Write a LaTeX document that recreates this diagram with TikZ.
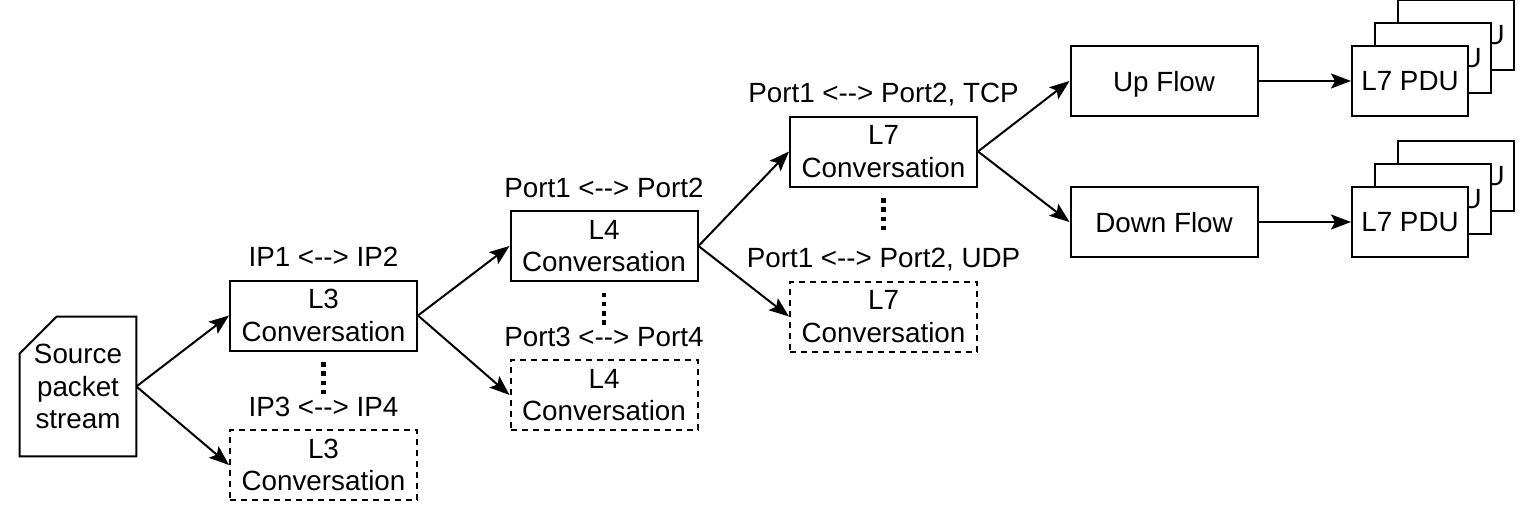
\documentclass[tikz,border=0pt]{standalone}
\usepackage{fontspec}
\setmainfont{Liberation Sans}
\usetikzlibrary{arrows.meta,calc}
\newcommand{\diafont}{\fontsize{13.9pt}{16.4pt}\selectfont}
\tikzset{
  conv/.style={draw,line width=1pt,align=center,minimum width=93.5pt,
    minimum height=35pt,inner sep=0pt,font=\diafont},
  convdash/.style={conv,dash pattern=on 3pt off 2.5pt},
  flow/.style={conv,text depth=0pt},
  pdu/.style={flow,fill=white,minimum width=58pt},
  lbl/.style={anchor=base,inner sep=0pt,font=\diafont},
  arr/.style={-{Stealth[length=10pt,width=7.5pt,inset=2pt]},line width=1pt},
  vdots/.style={line width=2.3pt,dash pattern=on 2.3pt off 2.3pt},
}

\begin{document}
\begin{tikzpicture}[x=0.5pt,y=-0.5pt]
  \useasboundingbox (0,0) rectangle (1529,508);
  % source
  \node[align=center,inner sep=0pt,minimum width=58pt,minimum height=69.5pt,font=\diafont]
    (src) at (78,386.5) {Source\\packet\\stream};
  \draw[line width=1pt] (src.south west) -- ($(src.north west)+(0,37)$)
    -- ($(src.north west)+(37,0)$) -- (src.north east) -- (src.south east) -- cycle;
  % L3
  \node[conv] (l3a) at (323.5,315.5) {L3\\Conversation};
  \node[convdash] (l3b) at (323.5,465) {L3\\Conversation};
  \node[lbl] (l3alab) at ([yshift=6.5pt]l3a.north) {IP1 <-{}-> IP2};
  \node[lbl] (l3blab) at ([yshift=6.5pt]l3b.north) {IP3 <-{}-> IP4};
  \draw[vdots] ([yshift=-5.3pt]l3a.south) -- ([yshift=-21.5pt]l3a.south);
  % L4
  \node[conv] (l4a) at (604,246) {L4\\Conversation};
  \node[convdash] (l4b) at (604,395) {L4\\Conversation};
  \node[lbl] (l4alab) at ([yshift=6.5pt]l4a.north) {Port1 <-{}-> Port2};
  \node[lbl] (l4blab) at ([yshift=6.5pt]l4b.north) {Port3 <-{}-> Port4};
  \draw[vdots] ([yshift=-5.3pt]l4a.south) -- ([yshift=-21.5pt]l4a.south);
  % L7
  \node[conv] (l7a) at (883.5,151.5) {L7\\Conversation};
  \node[convdash] (l7b) at (883.5,316.5) {L7\\Conversation};
  \node[lbl] (l7alab) at ([yshift=6.5pt]l7a.north) {Port1 <-{}-> Port2, TCP};
  \node[lbl] (l7blab) at ([yshift=6.5pt]l7b.north) {Port1 <-{}-> Port2, UDP};
  \draw[vdots] ([yshift=-5.3pt]l7a.south) -- ([yshift=-21.5pt]l7a.south);
  % flows
  \node[flow] (up) at (1164,81) {Up Flow};
  \node[flow] (down) at (1164,222) {Down Flow};
  % stacked PDUs
  \foreach \k/\d in {3/46,2/23,1/0} {
    \node[pdu] (pduup\k) at (1410+\d,81-\d) {L7 PDU};
    \node[pdu] (pdudown\k) at (1410+\d,222-\d) {L7 PDU};
  }
  % arrows
  \draw[arr] (src.east) -- (l3a.west);
  \draw[arr] (src.east) -- (l3b.west);
  \draw[arr] (l3a.east) -- (l4a.west);
  \draw[arr] (l3a.east) -- (l4b.west);
  \draw[arr] (l4a.east) -- (l7a.west);
  \draw[arr] (l4a.east) -- (l7b.west);
  \draw[arr] (l7a.east) -- (up.west);
  \draw[arr] (l7a.east) -- (down.west);
  \draw[arr] (up.east) -- (pduup1.west);
  \draw[arr] (down.east) -- (pdudown1.west);
\end{tikzpicture}
\end{document}
